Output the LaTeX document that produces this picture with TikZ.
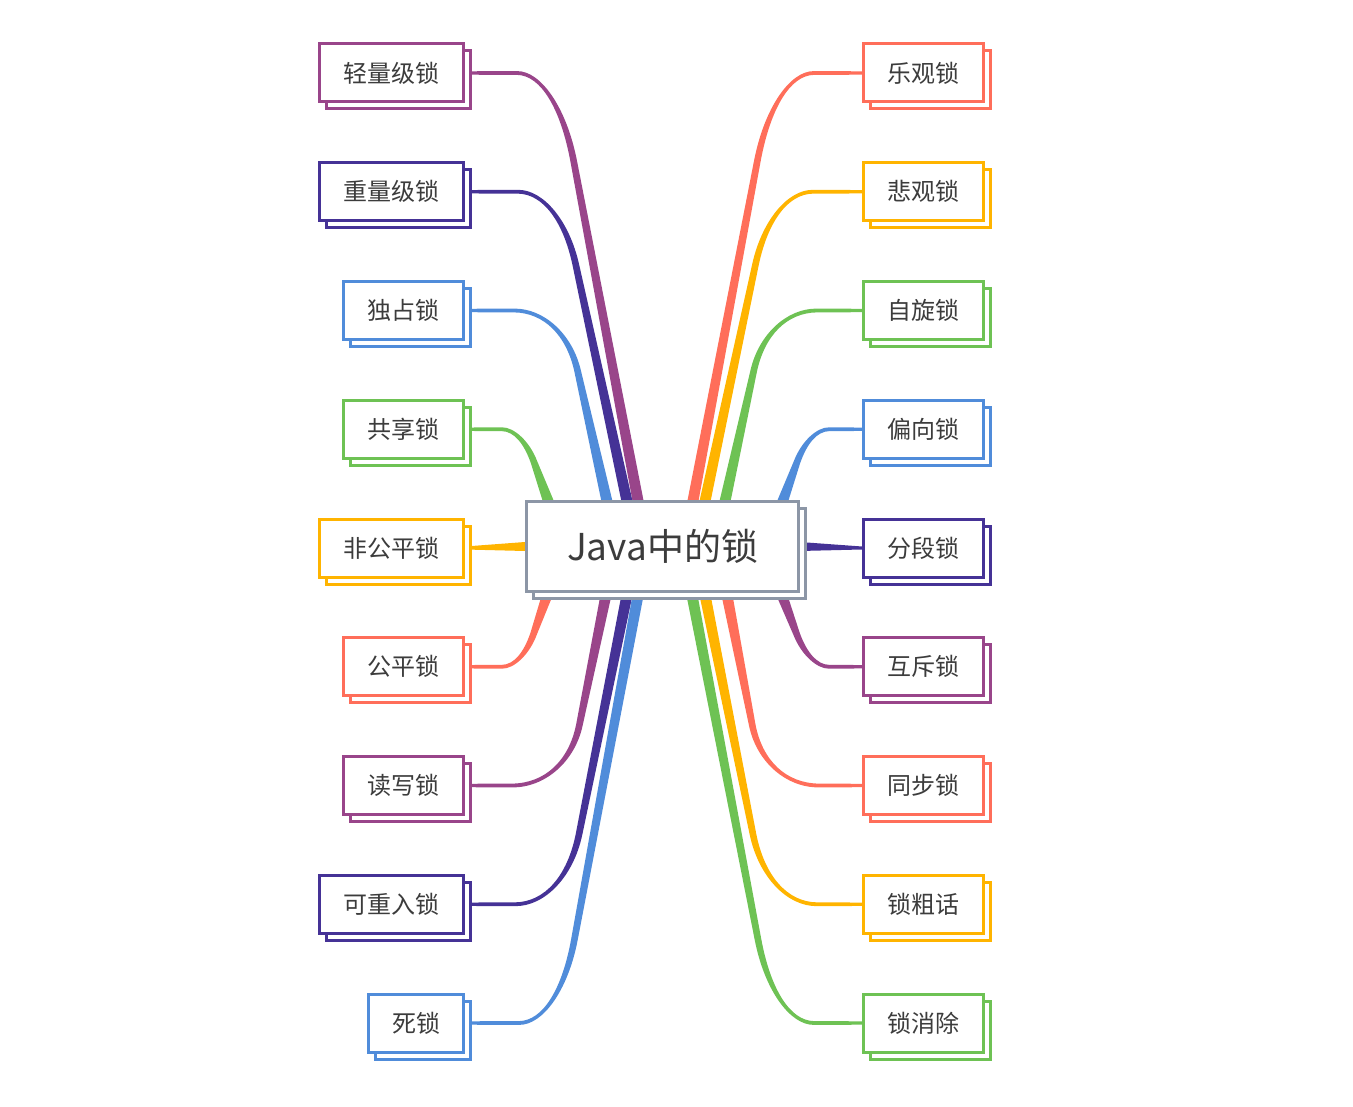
\documentclass[tikz,border=0pt]{standalone}
\usepackage{fontspec}
\setmainfont{Noto Sans CJK SC}
\usetikzlibrary{calc,shadows}
\pgfdeclarelayer{bg}
\pgfsetlayers{bg,main}

\definecolor{cPur}{RGB}{153,69,138}
\definecolor{cInd}{RGB}{69,50,150}
\definecolor{cBlu}{RGB}{80,140,218}
\definecolor{cGrn}{RGB}{110,194,84}
\definecolor{cYel}{RGB}{255,180,0}
\definecolor{cRed}{RGB}{255,110,90}
\definecolor{cGry}{RGB}{140,150,166}
\definecolor{cTxt}{RGB}{60,60,60}

% tapered branch: #1 colour, #2 start, #3 corner, #4 end, #5 run-in before corner, #6 run-out after corner
\newcommand\mmconn[6]{%
  \coordinate (qS) at (#2);
  \coordinate (qK) at (#3);
  \coordinate (qE) at (#4);
  \coordinate (qA) at ($(qK)!#5pt!(qS)$);
  \coordinate (qB) at ($(qK)!#6pt!(qE)$);
  \coordinate (qC) at ($(qA)!0.6!(qK)$);
  \coordinate (qD) at ($(qB)!0.6!(qK)$);
  \fill[#1] ($(qS)!1.7pt!90:(qK)$) -- ($(qA)!1.9pt!90:(qK)$)
     .. controls ($(qC)!2.2pt!90:(qK)$) and ($(qD)!3pt!90:(qE)$) .. ($(qB)!3.3pt!90:(qE)$)
     -- ($(qE)!5.5pt!-90:(qB)$) -- ($(qE)!5.5pt!90:(qB)$)
     -- ($(qB)!3.3pt!-90:(qE)$) .. controls ($(qD)!3pt!-90:(qE)$) and ($(qC)!2.2pt!-90:(qK)$) .. ($(qA)!1.9pt!-90:(qK)$)
     -- ($(qS)!1.7pt!-90:(qK)$) -- cycle;
}

\tikzset{
  leaf/.style={draw=#1, line width=3pt, fill=white, minimum height=58pt,
    inner sep=0pt, font=\fontsize{24}{24}\selectfont, text=cTxt,
    copy shadow={shadow xshift=7pt, shadow yshift=-7pt, draw=#1, fill=white, line width=3pt}},
  lleaf/.style={leaf=#1, anchor=east},
  rleaf/.style={leaf=#1, anchor=west, minimum width=120pt},
  hub/.style={draw=cGry, line width=3pt, fill=white, minimum width=272pt,
    minimum height=90pt, inner sep=0pt, font=\fontsize{37}{37}\selectfont, text=cTxt,
    copy shadow={shadow xshift=7pt, shadow yshift=-7pt, draw=cGry, fill=white, line width=3pt}}
}

\begin{document}
\begin{tikzpicture}[x=1pt,y=-1pt]
\useasboundingbox (0,0) rectangle (1353,1107);

\node[hub] (c) at (662.5,546.5) {Java中的锁};

% left leaves
\node[lleaf=cPur, minimum width=144pt] (l1) at (465,73) {轻量级锁};
\node[lleaf=cInd, minimum width=144pt] (l2) at (465,191.75) {重量级锁};
\node[lleaf=cBlu, minimum width=120pt] (l3) at (465,310.5) {独占锁};
\node[lleaf=cGrn, minimum width=120pt] (l4) at (465,429.25) {共享锁};
\node[lleaf=cYel, minimum width=144pt] (l5) at (465,548) {非公平锁};
\node[lleaf=cRed, minimum width=120pt] (l6) at (465,666.75) {公平锁};
\node[lleaf=cPur, minimum width=120pt] (l7) at (465,785.5) {读写锁};
\node[lleaf=cInd, minimum width=144pt] (l8) at (465,904.25) {可重入锁};
\node[lleaf=cBlu, minimum width=95pt] (l9) at (465,1023) {死锁};

% right leaves
\node[rleaf=cRed] (r1) at (862,73) {乐观锁};
\node[rleaf=cYel] (r2) at (862,191.75) {悲观锁};
\node[rleaf=cGrn] (r3) at (862,310.5) {自旋锁};
\node[rleaf=cBlu] (r4) at (862,429.25) {偏向锁};
\node[rleaf=cInd] (r5) at (862,548) {分段锁};
\node[rleaf=cPur] (r6) at (862,666.75) {互斥锁};
\node[rleaf=cRed] (r7) at (862,785.5) {同步锁};
\node[rleaf=cYel] (r8) at (862,904.25) {锁粗话};
\node[rleaf=cGrn] (r9) at (862,1023) {锁消除};

% attachment points inside the central topic
\coordinate (t1) at (639,506);
\coordinate (t2) at (628,506);
\coordinate (t3) at (608,506);
\coordinate (t4) at (550,506);
\coordinate (b6) at (549,590);
\coordinate (b7) at (607,590);
\coordinate (b8) at (628,590);
\coordinate (b9) at (639,590);
\coordinate (u1) at (692,506);
\coordinate (u2) at (704,506);
\coordinate (u3) at (724,506);
\coordinate (u4) at (781,506);
\coordinate (d6) at (780,590);
\coordinate (d7) at (726,590);
\coordinate (d8) at (704,590);
\coordinate (d9) at (691,590);

\begin{pgfonlayer}{bg}
\mmconn{cPur}{l1.east}{557,73}{t1}{40}{90}
\mmconn{cInd}{l2.east}{560,191.75}{t2}{42}{75}
\mmconn{cBlu}{l3.east}{564,310.5}{t3}{50}{62}
\mmconn{cGrn}{l4.east}{522,429.25}{t4}{20}{35}
\mmconn{cRed}{l6.east}{522,666.75}{b6}{20}{35}
\mmconn{cPur}{l7.east}{567,785.5}{b7}{55}{62}
\mmconn{cInd}{l8.east}{565,904.25}{b8}{50}{72}
\mmconn{cBlu}{l9.east}{559,1023}{b9}{40}{85}

\mmconn{cRed}{r1.west}{774,73}{u1}{40}{90}
\mmconn{cYel}{r2.west}{771,191.75}{u2}{42}{75}
\mmconn{cGrn}{r3.west}{767,310.5}{u3}{50}{62}
\mmconn{cBlu}{r4.west}{809,429.25}{u4}{20}{35}
\mmconn{cPur}{r6.west}{809,666.75}{d6}{20}{35}
\mmconn{cRed}{r7.west}{764,785.5}{d7}{55}{62}
\mmconn{cYel}{r8.west}{767,904.25}{d8}{50}{72}
\mmconn{cGrn}{r9.west}{774,1023}{d9}{40}{85}

\fill[cYel] ($(l5.east)+(0,-1.5)$) -- ($(c.west)+(0,-4.5)$) -- ($(c.west)+(0,4.5)$) -- ($(l5.east)+(0,1.5)$) -- cycle;
\fill[cInd] ($(c.east)+(0,-4.5)$) -- ($(r5.west)+(0,-1.5)$) -- ($(r5.west)+(0,1.5)$) -- ($(c.east)+(0,4.5)$) -- cycle;
\end{pgfonlayer}
\end{tikzpicture}
\end{document}
